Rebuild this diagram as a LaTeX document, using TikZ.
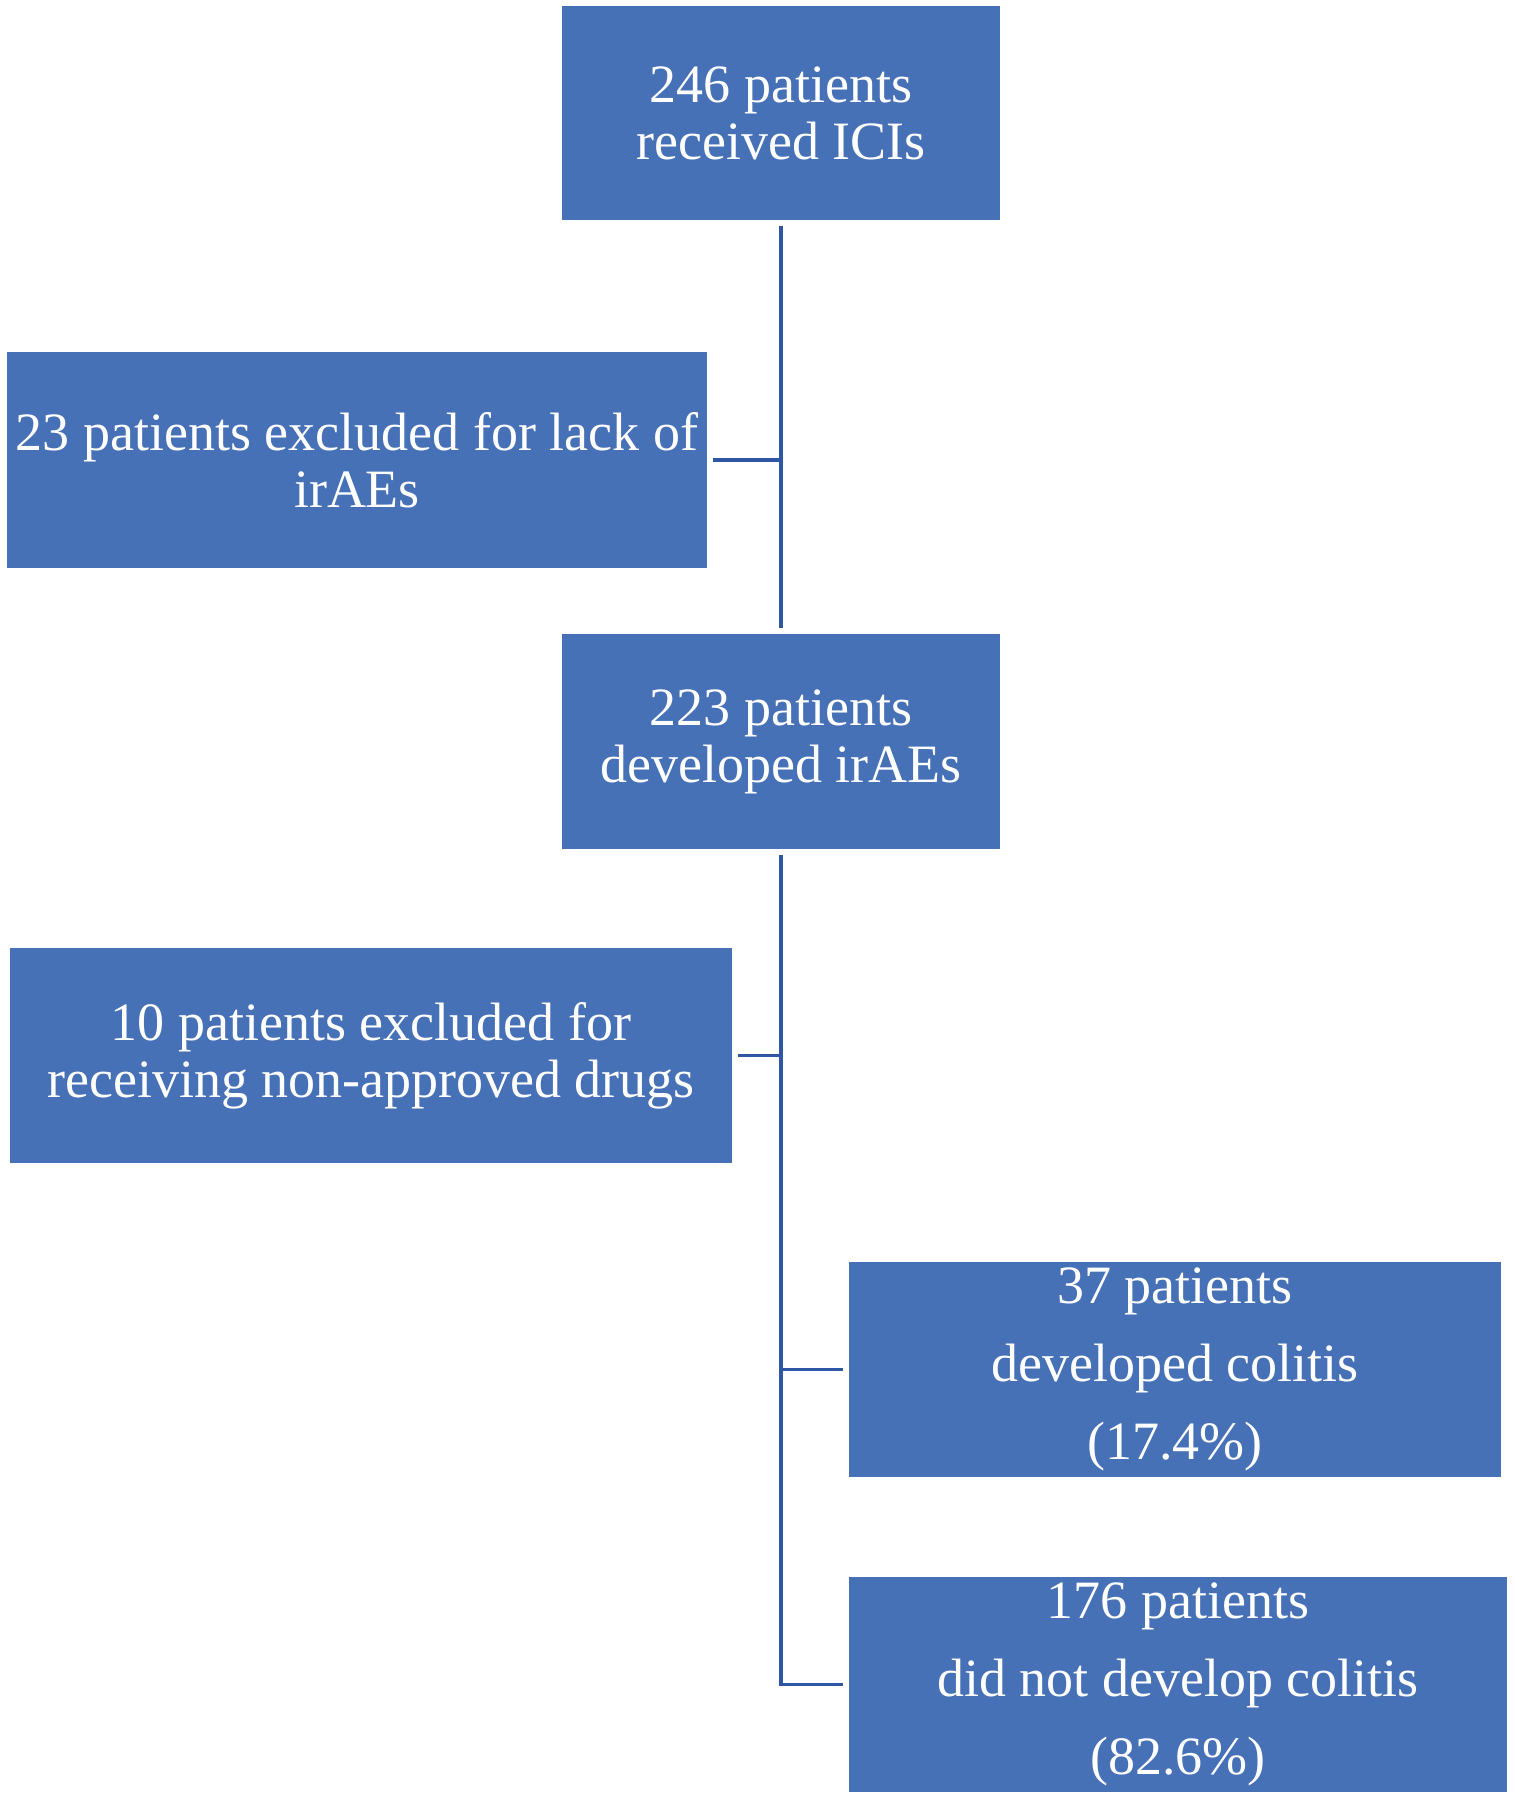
\documentclass[tikz,border=0pt]{standalone}
\usepackage{fontspec}
\setmainfont{Liberation Serif}
\usetikzlibrary{positioning}
\definecolor{boxblue}{HTML}{4671B6}
\definecolor{lineblue}{HTML}{2F56A2}
\tikzset{
  flowbox/.style={fill=boxblue,text=white,align=center,inner sep=0pt,outer sep=3pt,
    font=\fontsize{27}{28.5}\selectfont},
  widebox/.style={flowbox,font=\fontsize{27}{39}\selectfont},
  link/.style={draw=lineblue,line width=1.7pt}
}
\begin{document}
\begin{tikzpicture}[x=0.5pt,y=-0.5pt]
		\useasboundingbox (0,0) rectangle (1515,1800);
		\node [flowbox,minimum width=219pt,minimum height=107pt] (start) at (781,113) {246 patients\\received ICIs};
		\node [flowbox,minimum width=350pt,minimum height=108pt] (excla) at (357,460) {23 patients excluded for lack of\\irAEs};
		\node [flowbox,minimum width=219pt,minimum height=107.5pt] (irae) at (781,741.5) {223 patients\\developed irAEs};
		\node [flowbox,minimum width=361pt,minimum height=107.5pt] (exclb) at (371,1055.5) {10 patients excluded for\\receiving non-approved drugs};
		\node [widebox,minimum width=326pt,minimum height=107.5pt] (colitis) at (1175,1369.5) {37 patients\\developed colitis\\(17.4\%)};
		\node [widebox,minimum width=329pt,minimum height=107.5pt] (nocolitis) at (1178,1684.5) {176 patients\\did not develop colitis\\(82.6\%)};

		\draw [link] (start.south) -- (irae.north);
		\draw [link] (excla.east) -- (start.south |- excla.east);
		\draw [link] (irae.south) |- (nocolitis.west);
		\draw [link] (exclb.east) -- (irae.south |- exclb.east);
		\draw [link] (irae.south |- colitis.west) -- (colitis.west);
	\end{tikzpicture}
\end{document}
